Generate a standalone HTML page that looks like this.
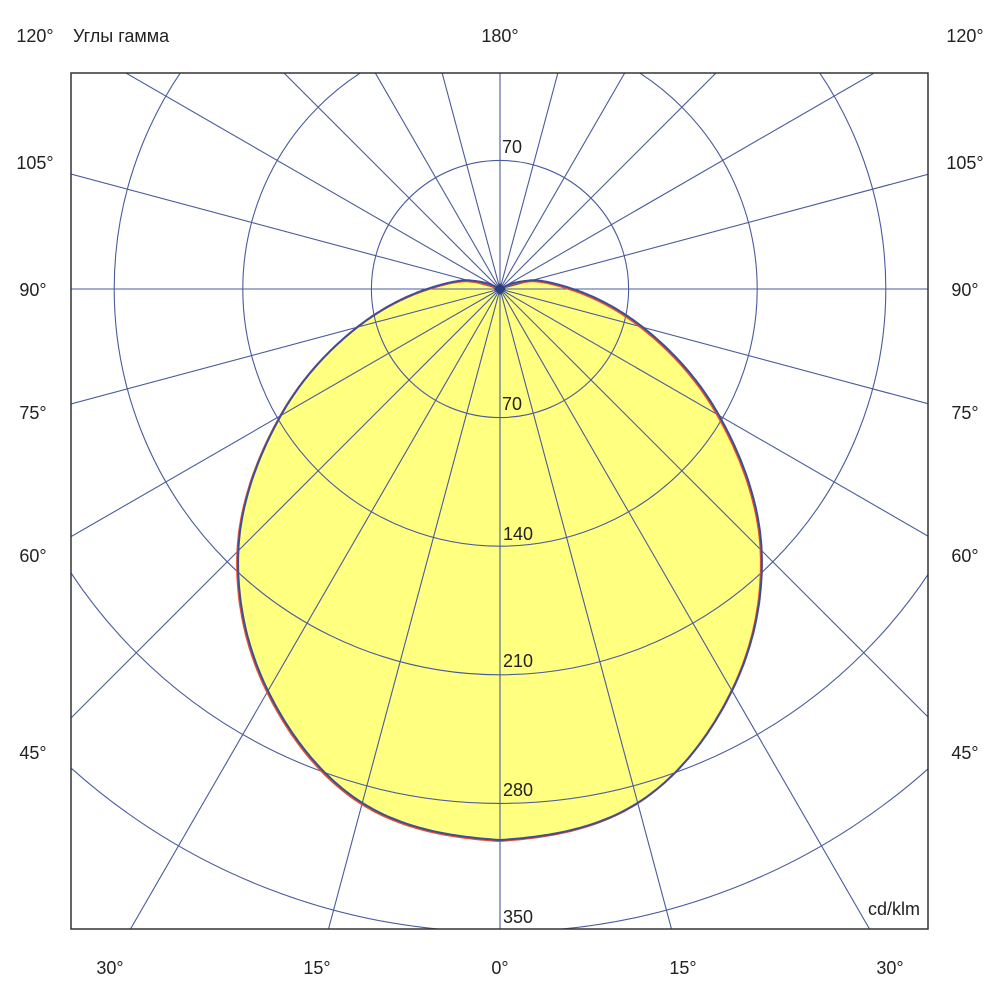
<!DOCTYPE html>
<html><head><meta charset="utf-8">
<style>
html,body{margin:0;padding:0;background:#fff;width:1000px;height:1000px;overflow:hidden;}
svg{display:block;}
text{font-family:"Liberation Sans",Arial,sans-serif;font-size:18px;fill:#222;}
</style></head>
<body>
<svg id="s" width="1000" height="1000" viewBox="0 0 1000 1000" xmlns="http://www.w3.org/2000/svg">
<defs><clipPath id="c"><rect x="71" y="73" width="857" height="856"/></clipPath></defs>
<rect x="71" y="73" width="857" height="856" fill="#fff"/>
<g clip-path="url(#c)">
<path id="fill" fill="#ffff80" stroke="none"/>
<g id="grid" stroke="#4a5b9c" stroke-width="1.1" fill="none"></g>
<path id="outR" fill="none" stroke="#e85030" stroke-width="2" transform="translate(-1,1)"/>
<path id="out" fill="none" stroke="#3c4f96" stroke-width="2"/>
<path d="M500 283 L506 289 L500 295 L494 289Z" fill="#2c3e80"/>
</g>
<rect x="71" y="73" width="857" height="856" fill="none" stroke="#333" stroke-width="1.5"/>
<text x="512" y="153" text-anchor="middle">70</text>
<text x="512" y="410" text-anchor="middle">70</text>
<text x="518" y="540" text-anchor="middle">140</text>
<text x="518" y="667" text-anchor="middle">210</text>
<text x="518" y="796" text-anchor="middle">280</text>
<text x="518" y="923" text-anchor="middle">350</text>
<text x="35" y="42" text-anchor="middle">120°</text>
<text x="73" y="42">Углы гамма</text>
<text x="500" y="42" text-anchor="middle">180°</text>
<text x="965" y="42" text-anchor="middle">120°</text>
<text x="35" y="169" text-anchor="middle">105°</text>
<text x="965" y="169" text-anchor="middle">105°</text>
<text x="33" y="296" text-anchor="middle">90°</text>
<text x="965" y="296" text-anchor="middle">90°</text>
<text x="33" y="419" text-anchor="middle">75°</text>
<text x="965" y="419" text-anchor="middle">75°</text>
<text x="33" y="562" text-anchor="middle">60°</text>
<text x="965" y="562" text-anchor="middle">60°</text>
<text x="33" y="759" text-anchor="middle">45°</text>
<text x="965" y="759" text-anchor="middle">45°</text>
<text x="110" y="974" text-anchor="middle">30°</text>
<text x="317" y="974" text-anchor="middle">15°</text>
<text x="500" y="974" text-anchor="middle">0°</text>
<text x="683" y="974" text-anchor="middle">15°</text>
<text x="890" y="974" text-anchor="middle">30°</text>
<text x="920" y="915" text-anchor="end">cd/klm</text>
</svg>
<script>
var cx=500,cy=289,ns="http://www.w3.org/2000/svg";
var g=document.getElementById("grid");
for(var k=1;k<=5;k++){var c=document.createElementNS(ns,"circle");c.setAttribute("cx",cx);c.setAttribute("cy",cy);c.setAttribute("r",128.6*k);g.appendChild(c);}
var L=71,T=73,Rr=928,B=929;
for(var a=0;a<360;a+=15){var t=a*Math.PI/180;var dx=Math.sin(t),dy=Math.cos(t);
 var s=1e9;
 if(dx>1e-9)s=Math.min(s,(Rr-cx)/dx); if(dx<-1e-9)s=Math.min(s,(L-cx)/dx);
 if(dy>1e-9)s=Math.min(s,(B-cy)/dy); if(dy<-1e-9)s=Math.min(s,(T-cy)/dy);
 var l=document.createElementNS(ns,"line");l.setAttribute("x1",cx);l.setAttribute("y1",cy);l.setAttribute("x2",cx+s*dx);l.setAttribute("y2",cy+s*dy);g.appendChild(l);}
var A=[0,15,30,45,60,75,90,105,115,122];
var R=[551,532,464,370,253,148,73,34,12,0];
function rAt(th){
 for(var i=0;i<A.length-1;i++){if(th<=A[i+1]){
  var p0=R[Math.max(i-1,0)],p1=R[i],p2=R[i+1],p3=R[Math.min(i+2,R.length-1)];
  var u=(th-A[i])/(A[i+1]-A[i]);
  return 0.5*((2*p1)+(-p0+p2)*u+(2*p0-5*p1+4*p2-p3)*u*u+(-p0+3*p1-3*p2+p3)*u*u*u);}}
 return 0;}
var pts=[];
for(var th=-122;th<=122;th+=0.5){var r=Math.max(0,rAt(Math.abs(th)));var t=th*Math.PI/180;pts.push((cx+r*Math.sin(t)).toFixed(1)+" "+(cy+r*Math.cos(t)).toFixed(1));}
var d="M"+pts.join(" L")+"Z";
document.getElementById("fill").setAttribute("d",d);
document.getElementById("out").setAttribute("d",d);
document.getElementById("outR").setAttribute("d",d);
</script>
</body></html>
